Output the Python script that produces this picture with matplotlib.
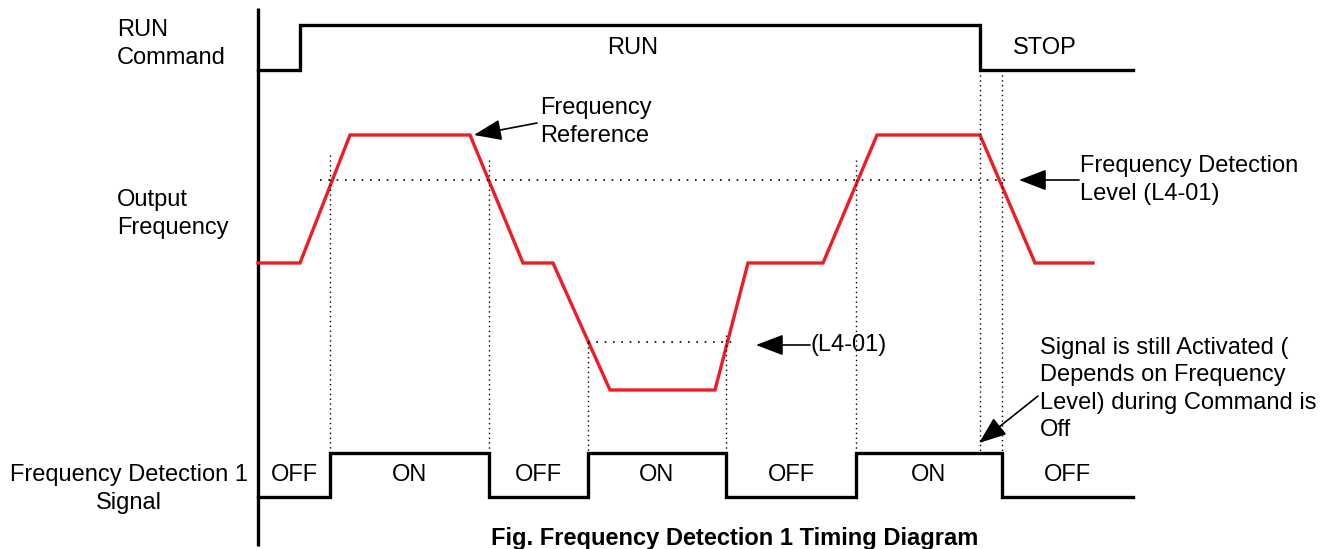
import matplotlib
matplotlib.use("Agg")
import matplotlib.pyplot as plt

plt.rcParams["font.family"] = ["Liberation Sans", "DejaVu Sans"]

# ── Waveforms (picture coordinates, y grows downward) ─────────────────────────
run_x = [258, 300, 300, 980, 980, 1133]
run_y = [70, 70, 25, 25, 70, 70]

freq_x = [258, 300, 350, 470, 523, 553, 610, 715, 748, 823, 877, 980, 1035, 1093]
freq_y = [263, 263, 135, 135, 263, 263, 390, 390, 263, 263, 135, 135, 263, 263]

sig_edges = [258, 330, 489, 588, 726, 856, 1002, 1133]
sig_states = [0, 1, 0, 1, 0, 1, 0]           # 1 = ON
sig_labels = ["OFF", "ON", "OFF", "ON", "OFF", "ON", "OFF"]
SIG_HI, SIG_LO = 453, 497

# detection levels (horizontal dotted) and guide lines (vertical dotted)
level_lines = [(180, 320, 1008), (342, 588, 738)]
guide_x   = [330, 489, 588, 726, 856, 980, 1002]
guide_top = [155, 160, 342, 335, 160, 70, 70]

fig = plt.figure(figsize=(13.35, 5.49), dpi=100)
ax = fig.add_axes([0, 0, 1, 1])
ax.set_xlim(0, 1335)
ax.set_ylim(549, 0)
ax.axis("off")

FS = 17
LW = 2.4
LS = 1.32

# time axis
ax.plot([258, 258], [8, 546], color="black", lw=LW, solid_capstyle="butt")

# RUN command
ax.plot(run_x, run_y, color="black", lw=LW, solid_joinstyle="miter")
ax.text(633, 48, "RUN", fontsize=FS, ha="center", va="center")
ax.text(1045, 48, "STOP", fontsize=FS, ha="center", va="center")

# output frequency
ax.plot(freq_x, freq_y, color="#ee1c25", lw=LW, solid_joinstyle="miter")

# frequency detection signal
sx, sy = [], []
for i, st in enumerate(sig_states):
    y = SIG_HI if st else SIG_LO
    sx += [sig_edges[i], sig_edges[i + 1]]
    sy += [y, y]
    xm = (sig_edges[i] + sig_edges[i + 1]) / 2
    ax.text(xm, 475, sig_labels[i], fontsize=FS, ha="center", va="center")
ax.plot(sx, sy, color="black", lw=LW, solid_joinstyle="miter")

for y, x0, x1 in level_lines:
    ax.plot([x0, x1], [y, y], color="black", lw=1.2, ls=(0, (1, 4)))
for x, top in zip(guide_x, guide_top):
    ax.plot([x, x], [top, SIG_HI], color="black", lw=1.0, ls=(0, (1, 2.5)))

# left-hand labels
ax.text(117, 44, "RUN\nCommand", fontsize=FS, ha="left", va="center", linespacing=LS)
ax.text(117, 214, "Output\nFrequency", fontsize=FS, ha="left", va="center", linespacing=LS)
ax.text(129, 489, "Frequency Detection 1\nSignal", fontsize=FS, ha="center", va="center",
        linespacing=LS)

# annotations
arrow = dict(arrowstyle="-|>,head_length=1.7,head_width=0.65", color="black", lw=1.2,
             shrinkA=0, shrinkB=0)
ax.annotate("", xy=(474, 135), xytext=(537, 123), arrowprops=arrow)
ax.text(540, 122, "Frequency\nReference", fontsize=FS, ha="left", va="center", linespacing=LS)

ax.annotate("", xy=(1019, 180), xytext=(1079, 180), arrowprops=arrow)
ax.text(1080, 180, "Frequency Detection\nLevel (L4-01)", fontsize=FS, ha="left", va="center",
        linespacing=LS)

ax.annotate("", xy=(756, 345), xytext=(810, 345), arrowprops=arrow)
ax.text(811, 345, "(L4-01)", fontsize=FS, ha="left", va="center")

ax.annotate("", xy=(979, 443), xytext=(1038, 396), arrowprops=arrow)
ax.text(1040, 389, "Signal is still Activated (\nDepends on Frequency\nLevel) during Command is\nOff",
        fontsize=FS, ha="left", va="center", linespacing=LS)

ax.text(735, 527, "Fig. Frequency Detection 1 Timing Diagram", fontsize=FS, fontweight="bold",
        ha="center", va="top")

fig.savefig("out.png", dpi=100)
